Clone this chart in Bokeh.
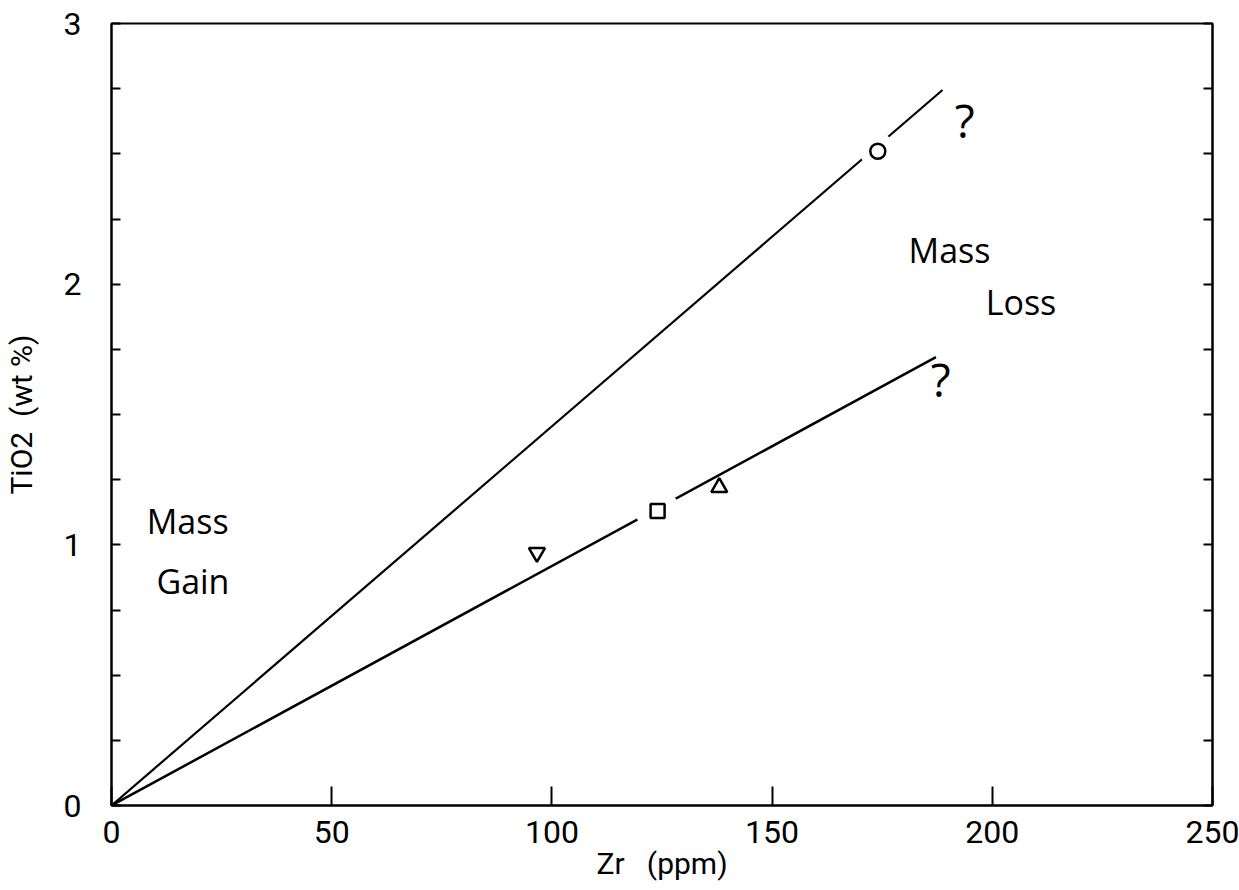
from bokeh.plotting import figure
from bokeh.models import Range1d, FixedTicker, LinearAxis, ColumnDataSource
from bokeh.core.properties import value
from bokeh.embed import file_html
from bokeh.resources import INLINE

# ---- data ----
x_ticks = [0, 50, 100, 150, 200, 250]
y_ticks = [0, 1, 2, 3]
y_minor = [0.25, 0.5, 0.75, 1.25, 1.5, 1.75, 2.25, 2.5, 2.75]

upper_line_x = [0, 188.7]
upper_line_y = [0, 2.745]
lower_line_x = [0, 187.2]
lower_line_y = [0, 1.72]

circle_zr = [174.0]
circle_ti = [2.51]
square_zr = [124.0]
square_ti = [1.13]
tri_up_zr = [138.0]
tri_up_ti = [1.22]
tri_down_zr = [96.6]
tri_down_ti = [0.97]

annot_text = ["Mass", "Gain", "Mass", "Loss"]
annot_x = [8.0, 10.2, 181.0, 198.5]
annot_y = [1.09, 0.86, 2.13, 1.93]

query_text = ["?", "?"]
query_x = [191.5, 186.0]
query_y = [2.63, 1.635]

FONT = "Roboto"
HAND = "Open Sans"

p = figure(width=1239, height=890, output_backend="svg", toolbar_location=None,
           x_range=Range1d(0, 250), y_range=Range1d(0, 3),
           min_border_left=110, min_border_right=27, min_border_top=23, min_border_bottom=85)
p.background_fill_color = "white"
p.border_fill_color = "white"
p.outline_line_color = "black"
p.outline_line_width = 2
p.xgrid.visible = False
p.ygrid.visible = False

# bottom axis
xa = p.xaxis[0]
xa.ticker = FixedTicker(ticks=x_ticks)
xa.axis_line_width = 2
xa.major_tick_in = 19
xa.major_tick_out = 0
xa.major_tick_line_width = 2
xa.minor_tick_line_color = None
xa.major_label_text_font = FONT
xa.major_label_text_font_size = "32px"
xa.major_label_text_color = "black"
xa.major_label_standoff = 15
xa.axis_label = "Zr\u00a0\u00a0\u00a0(ppm)"
xa.axis_label_text_font = FONT
xa.axis_label_text_font_size = "30px"
xa.axis_label_text_font_style = "normal"
xa.axis_label_text_color = "black"
xa.axis_label_standoff = 0

# left axis
ya = p.yaxis[0]
ya.ticker = FixedTicker(ticks=y_ticks, minor_ticks=y_minor)
ya.axis_line_width = 2
ya.major_tick_in = 9
ya.major_tick_out = 0
ya.minor_tick_in = 9
ya.minor_tick_out = 0
ya.major_tick_line_width = 2
ya.minor_tick_line_width = 2
ya.major_label_text_font = FONT
ya.major_label_text_font_size = "32px"
ya.major_label_text_color = "black"
ya.major_label_standoff = 30
ya.axis_label = "TiO2\u00a0\u00a0(wt %)"
ya.axis_label_text_font = FONT
ya.axis_label_text_font_size = "30px"
ya.axis_label_text_font_style = "normal"
ya.axis_label_text_color = "black"
ya.axis_label_standoff = 22

# right axis (ticks only)
ra = LinearAxis(ticker=FixedTicker(ticks=y_ticks, minor_ticks=y_minor))
ra.axis_line_width = 2
ra.major_tick_in = 9
ra.major_tick_out = 0
ra.minor_tick_in = 9
ra.minor_tick_out = 0
ra.major_tick_line_width = 2
ra.minor_tick_line_width = 2
ra.major_label_overrides = {0: "", 1: "", 2: "", 3: ""}
ra.major_label_standoff = 0
ra.major_label_text_font_size = "1px"
p.add_layout(ra, "right")

# lines
p.line(upper_line_x, upper_line_y, line_color="black", line_width=2.2)
p.line(lower_line_x, lower_line_y, line_color="black", line_width=2.5)

# white halos where the lines break around on-line markers
p.scatter(circle_zr, circle_ti, marker="circle", size=36, fill_color="white", line_color=None)
p.scatter(square_zr, square_ti, marker="circle", size=44, fill_color="white", line_color=None)

# markers
p.scatter(circle_zr, circle_ti, marker="circle", size=15, fill_color="white", line_color="black", line_width=2.5)
p.scatter(square_zr, square_ti, marker="square", size=14, fill_color="white", line_color="black", line_width=2.5)
p.scatter(tri_up_zr, tri_up_ti, marker="triangle", size=16, fill_color="white", line_color="black", line_width=2.5)
p.scatter(tri_down_zr, tri_down_ti, marker="inverted_triangle", size=16, fill_color="white", line_color="black", line_width=2.5)

# handwritten annotations
src = ColumnDataSource(dict(x=annot_x, y=annot_y, t=annot_text))
p.text(x="x", y="y", text="t", source=src, text_font=value(HAND), text_font_size="34px",
       text_font_style="normal", text_align="left", text_baseline="alphabetic", text_color="black")
qsrc = ColumnDataSource(dict(x=query_x, y=query_y, t=query_text))
p.text(x="x", y="y", text="t", source=qsrc, text_font=value(HAND), text_font_size="46px",
       text_font_style="normal", text_align="left", text_baseline="alphabetic", text_color="black")

open("out.html", "w").write(file_html(p, INLINE))
